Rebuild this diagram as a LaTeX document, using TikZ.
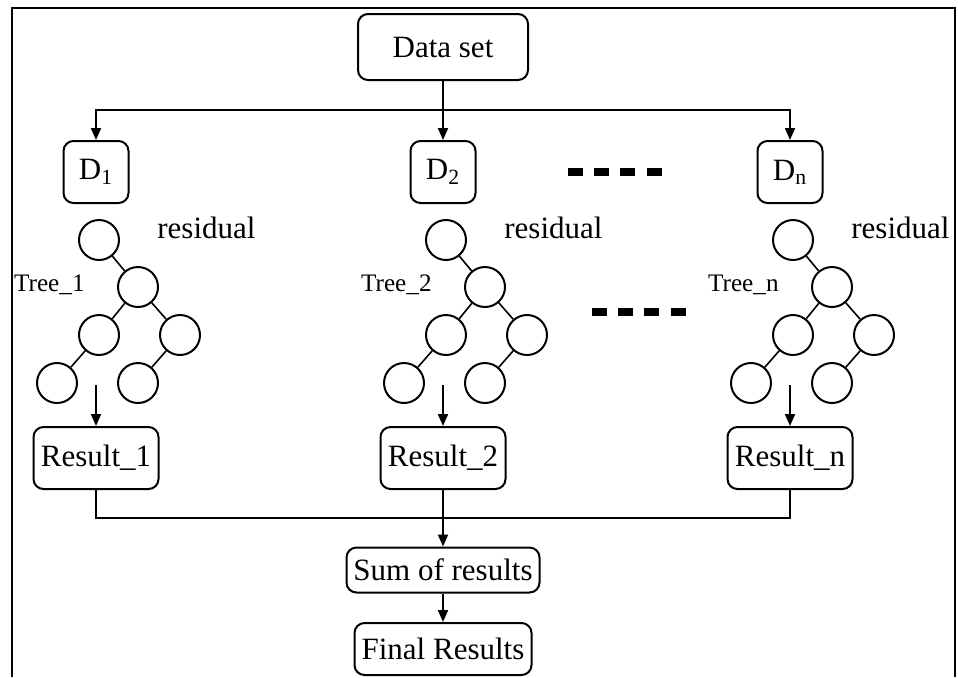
\documentclass[tikz,border=0pt]{standalone}
\usepackage{fontspec}
\setmainfont{Liberation Serif}
\usetikzlibrary{arrows.meta,positioning}

\begin{document}
\begin{tikzpicture}[
    x=0.5pt, y=-0.5pt,
    font=\fontsize{15.5}{18}\selectfont,
    box/.style={draw, rounded corners=5pt, line width=1pt, inner sep=2pt, align=center},
    leaf/.style={draw, circle, line width=1pt, minimum size=20pt, inner sep=0pt},
    link/.style={line width=0.8pt},
    arr/.style={-{Triangle[length=6pt,width=5pt]}, line width=1pt},
    gap/.style={line width=4pt, dash pattern=on 7.5pt off 5.6pt}
  ]
  \useasboundingbox (0,0) rectangle (958,677);
  % open frame
  \draw[line width=1pt] (12,677) -- (12,8) -- (955,8) -- (955,677);

  \node[box, minimum width=85pt, minimum height=33pt] (data) at (443,47) {Data set};
  \coordinate (split) at (443,110);

  % one column per tree
  \foreach \c/\k in {96/1, 443/2, 790/n} {
    \node[box, minimum width=32.5pt, minimum height=31pt] (D\k) at (\c,172) {D\textsubscript{\k}};
    \node[leaf] (t\k a) at (\c+3,240) {};
    \node[leaf] (t\k b) at (\c+42,287) {};
    \node[leaf] (t\k c) at (\c+3,335) {};
    \node[leaf] (t\k d) at (\c+84,335) {};
    \node[leaf] (t\k e) at (\c-39,383) {};
    \node[leaf] (t\k f) at (\c+42,383) {};
    \draw[link] (t\k a) -- (t\k b) (t\k b) -- (t\k c) (t\k b) -- (t\k d)
                (t\k c) -- (t\k e) (t\k d) -- (t\k f);
    \node[anchor=west, inner sep=0pt] (res\k) at (\c+61,228) {residual};
    \node[anchor=east, inner sep=0pt, font=\fontsize{12.6}{14}\selectfont] (lab\k) at (\c-11,285) {Tree\_\k};
    \node[box, minimum width=62.5pt, minimum height=31pt] (R\k) at (\c,458) {Result\_\k};
    \coordinate (out\k) at (\c,385);
    \draw[arr] (out\k) -- (R\k);
  }

  \draw[arr] (data) -- (D2);
  \draw[arr] (split) -| (D1);
  \draw[arr] (split) -| (Dn);

  % skipped columns
  \coordinate (skipA) at (568,172);
  \coordinate (skipB) at (663,172);
  \coordinate (skipC) at (592,312);
  \coordinate (skipD) at (687,312);
  \draw[gap] (skipA) -- (skipB);
  \draw[gap] (skipC) -- (skipD);

  \node[box, minimum width=96.5pt, minimum height=22.5pt] (sum) at (443,570) {Sum of results};
  \node[box, minimum width=88.5pt, minimum height=26pt] (final) at (443,649) {Final Results};
  \coordinate (join) at (443,518);

  \draw[line width=1pt] (R1) |- (join) -| (Rn);
  \draw[arr] (R2) -- (sum);
  \draw[arr] (sum) -- (final);
\end{tikzpicture}
\end{document}
